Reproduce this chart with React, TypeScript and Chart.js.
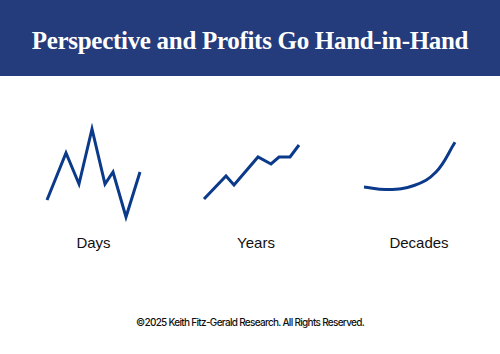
import React, { useEffect, useRef } from "react";
import { Chart, registerables } from "chart.js";

Chart.register(...registerables);

const TITLE = "Perspective and Profits Go Hand-in-Hand";
const FOOTER = "©2025 Keith Fitz-Gerald Research. All Rights Reserved.";

const panelLabels = ["Days", "Years", "Decades"];

const daysX = [0, 19, 32, 45, 58, 66, 79, 93];
const daysY = [30, 77, 46, 101, 46, 58, 13, 58];

const yearsX = [0, 22, 30, 54, 67, 75, 86, 95];
const yearsY = [31, 54, 45, 73, 66, 73, 73, 85];

const decadesX = [0, 23, 50, 72, 91];
const decadesY = [43, 40.5, 44.5, 58, 87.7];

const LINE_COLOR = "#0b3a8a";
const HEADER_COLOR = "#243b7c";

function MiniChart({ xs, ys, smooth, left }: { xs: number[]; ys: number[]; smooth: boolean; left: number }) {
  const ref = useRef<HTMLCanvasElement | null>(null);
  useEffect(() => {
    if (!ref.current) return;
    const chart = new Chart(ref.current, {
      type: "line",
      data: {
        datasets: [
          {
            data: xs.map((x, i) => ({ x, y: ys[i] })),
            borderColor: LINE_COLOR,
            borderWidth: 3,
            pointRadius: 0,
            fill: false,
            tension: smooth ? 0.4 : 0,
            borderJoinStyle: "miter",
            clip: false,
          } as any,
        ],
      },
      options: {
        responsive: false,
        animation: false,
        layout: { padding: 0 },
        plugins: { legend: { display: false }, tooltip: { enabled: false } },
        scales: {
          x: { type: "linear", display: false, min: -7, max: 103 },
          y: { type: "linear", display: false, min: 5, max: 110 },
        },
      },
    });
    return () => chart.destroy();
  }, []);
  return (
    <canvas
      ref={ref}
      width={110}
      height={105}
      style={{ position: "absolute", left, top: 120, width: 110, height: 105 }}
    />
  );
}

export default function App() {
  const lefts = [40, 197, 357];
  const labelCenters = [93.5, 256, 419];
  return (
    <div
      style={{
        position: "absolute",
        left: 0,
        top: 0,
        width: 500,
        height: 354,
        background: "#ffffff",
        overflow: "hidden",
      }}
    >
      <div
        style={{
          position: "absolute",
          left: 0,
          top: 0,
          width: 500,
          height: 76,
          background: HEADER_COLOR,
        }}
      />
      <div
        style={{
          position: "absolute",
          left: 0,
          top: 26,
          width: 500,
          textAlign: "center",
          color: "#ffffff",
          fontFamily: "'Liberation Serif', 'DejaVu Serif', serif",
          fontWeight: 700,
          fontSize: 25,
          lineHeight: "30px",
          whiteSpace: "nowrap",
          letterSpacing: "-0.3px",
        }}
      >
        {TITLE}
      </div>
      <MiniChart xs={daysX} ys={daysY} smooth={false} left={lefts[0]} />
      <MiniChart xs={yearsX} ys={yearsY} smooth={false} left={lefts[1]} />
      <MiniChart xs={decadesX} ys={decadesY} smooth={true} left={lefts[2]} />
      {panelLabels.map((t, i) => (
        <div
          key={t}
          style={{
            position: "absolute",
            left: labelCenters[i] - 50,
            top: 234,
            width: 100,
            textAlign: "center",
            fontFamily: "'Liberation Sans', Arial, sans-serif",
            fontSize: 15,
            lineHeight: "18px",
            color: "#111111",
          }}
        >
          {t}
        </div>
      ))}
      <div
        style={{
          position: "absolute",
          left: 0,
          top: 316,
          width: 500,
          textAlign: "center",
          fontFamily: "Inter, 'Noto Sans', sans-serif",
          fontSize: 10,
          fontWeight: 500,
          lineHeight: "12px",
          letterSpacing: "-0.7px",
          color: "#111111",
          whiteSpace: "nowrap",
        }}
      >
        {FOOTER}
      </div>
    </div>
  );
}
